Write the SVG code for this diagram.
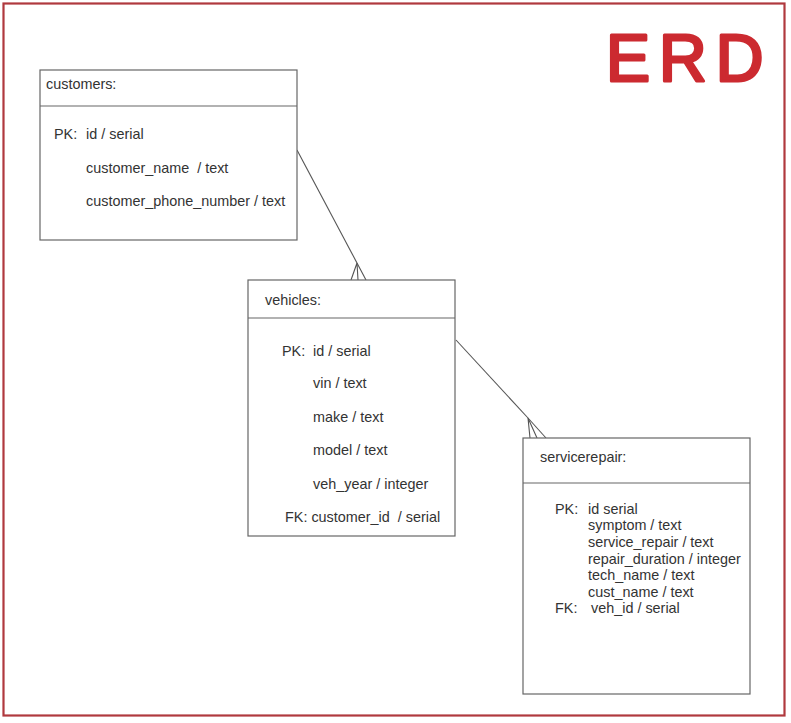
<svg xmlns="http://www.w3.org/2000/svg" width="791" height="723" viewBox="0 0 791 723">
<style>
  .box { fill: #ffffff; stroke: #666666; stroke-width: 1.2; }
  .sep { stroke: #666666; stroke-width: 1.2; }
  .t { font-family: "Liberation Sans", Arial, sans-serif; font-size: 14.4px; fill: #333333; }
  .conn { stroke: #555555; stroke-width: 1.1; fill: none; }
  .erd { font-family: "Liberation Sans", Arial, sans-serif; font-size: 66px; fill: #cc2a30; stroke: #cc2a30; stroke-width: 3; stroke-linejoin: round; letter-spacing: 9px; }
</style>
<rect x="0" y="0" width="791" height="723" fill="#ffffff"/>
<rect x="3.5" y="3.5" width="781" height="712" fill="none" stroke="#b0393e" stroke-width="2.2"/>
<text class="erd" x="606" y="81">ERD</text>

<g id="connectors">
  <polyline class="conn" points="297,150 357,263"/>
  <polyline class="conn" points="351,280 357,263 358,280"/>
  <polyline class="conn" points="357,263 366,280"/>
  <polyline class="conn" points="456,340 528,418"/>
  <polyline class="conn" points="530,438 528,418 537,438"/>
  <polyline class="conn" points="528,418 546,438"/>
</g>

<g id="customers">
  <rect class="box" x="40" y="70" width="257" height="170"/>
  <line class="sep" x1="40" y1="106" x2="297" y2="106"/>
  <text class="t" x="46" y="89">customers:</text>
  <text class="t" x="54" y="139">PK:</text>
  <text class="t" x="86" y="139">id / serial</text>
  <text class="t" x="86" y="173" xml:space="preserve">customer_name  / text</text>
  <text class="t" x="86" y="206">customer_phone_number / text</text>
</g>

<g id="vehicles">
  <rect class="box" x="248" y="280" width="207" height="256"/>
  <line class="sep" x1="248" y1="318" x2="455" y2="318"/>
  <text class="t" x="265" y="305">vehicles:</text>
  <text class="t" x="282" y="356">PK:</text>
  <text class="t" x="313" y="356">id / serial</text>
  <text class="t" x="313" y="388">vin / text</text>
  <text class="t" x="313" y="422">make / text</text>
  <text class="t" x="313" y="455">model / text</text>
  <text class="t" x="313" y="489">veh_year / integer</text>
  <text class="t" x="285" y="522" xml:space="preserve">FK: customer_id  / serial</text>
</g>

<g id="servicerepair">
  <rect class="box" x="523" y="438" width="227" height="256"/>
  <line class="sep" x1="523" y1="483" x2="750" y2="483"/>
  <text class="t" x="540" y="462">servicerepair:</text>
  <text class="t" x="555" y="514">PK:</text>
  <text class="t" x="588" y="514">id serial</text>
  <text class="t" x="588" y="530">symptom / text</text>
  <text class="t" x="588" y="547">service_repair / text</text>
  <text class="t" x="588" y="564">repair_duration / integer</text>
  <text class="t" x="588" y="580">tech_name / text</text>
  <text class="t" x="588" y="597">cust_name / text</text>
  <text class="t" x="555" y="613">FK:</text>
  <text class="t" x="591" y="613">veh_id / serial</text>
</g>
</svg>
